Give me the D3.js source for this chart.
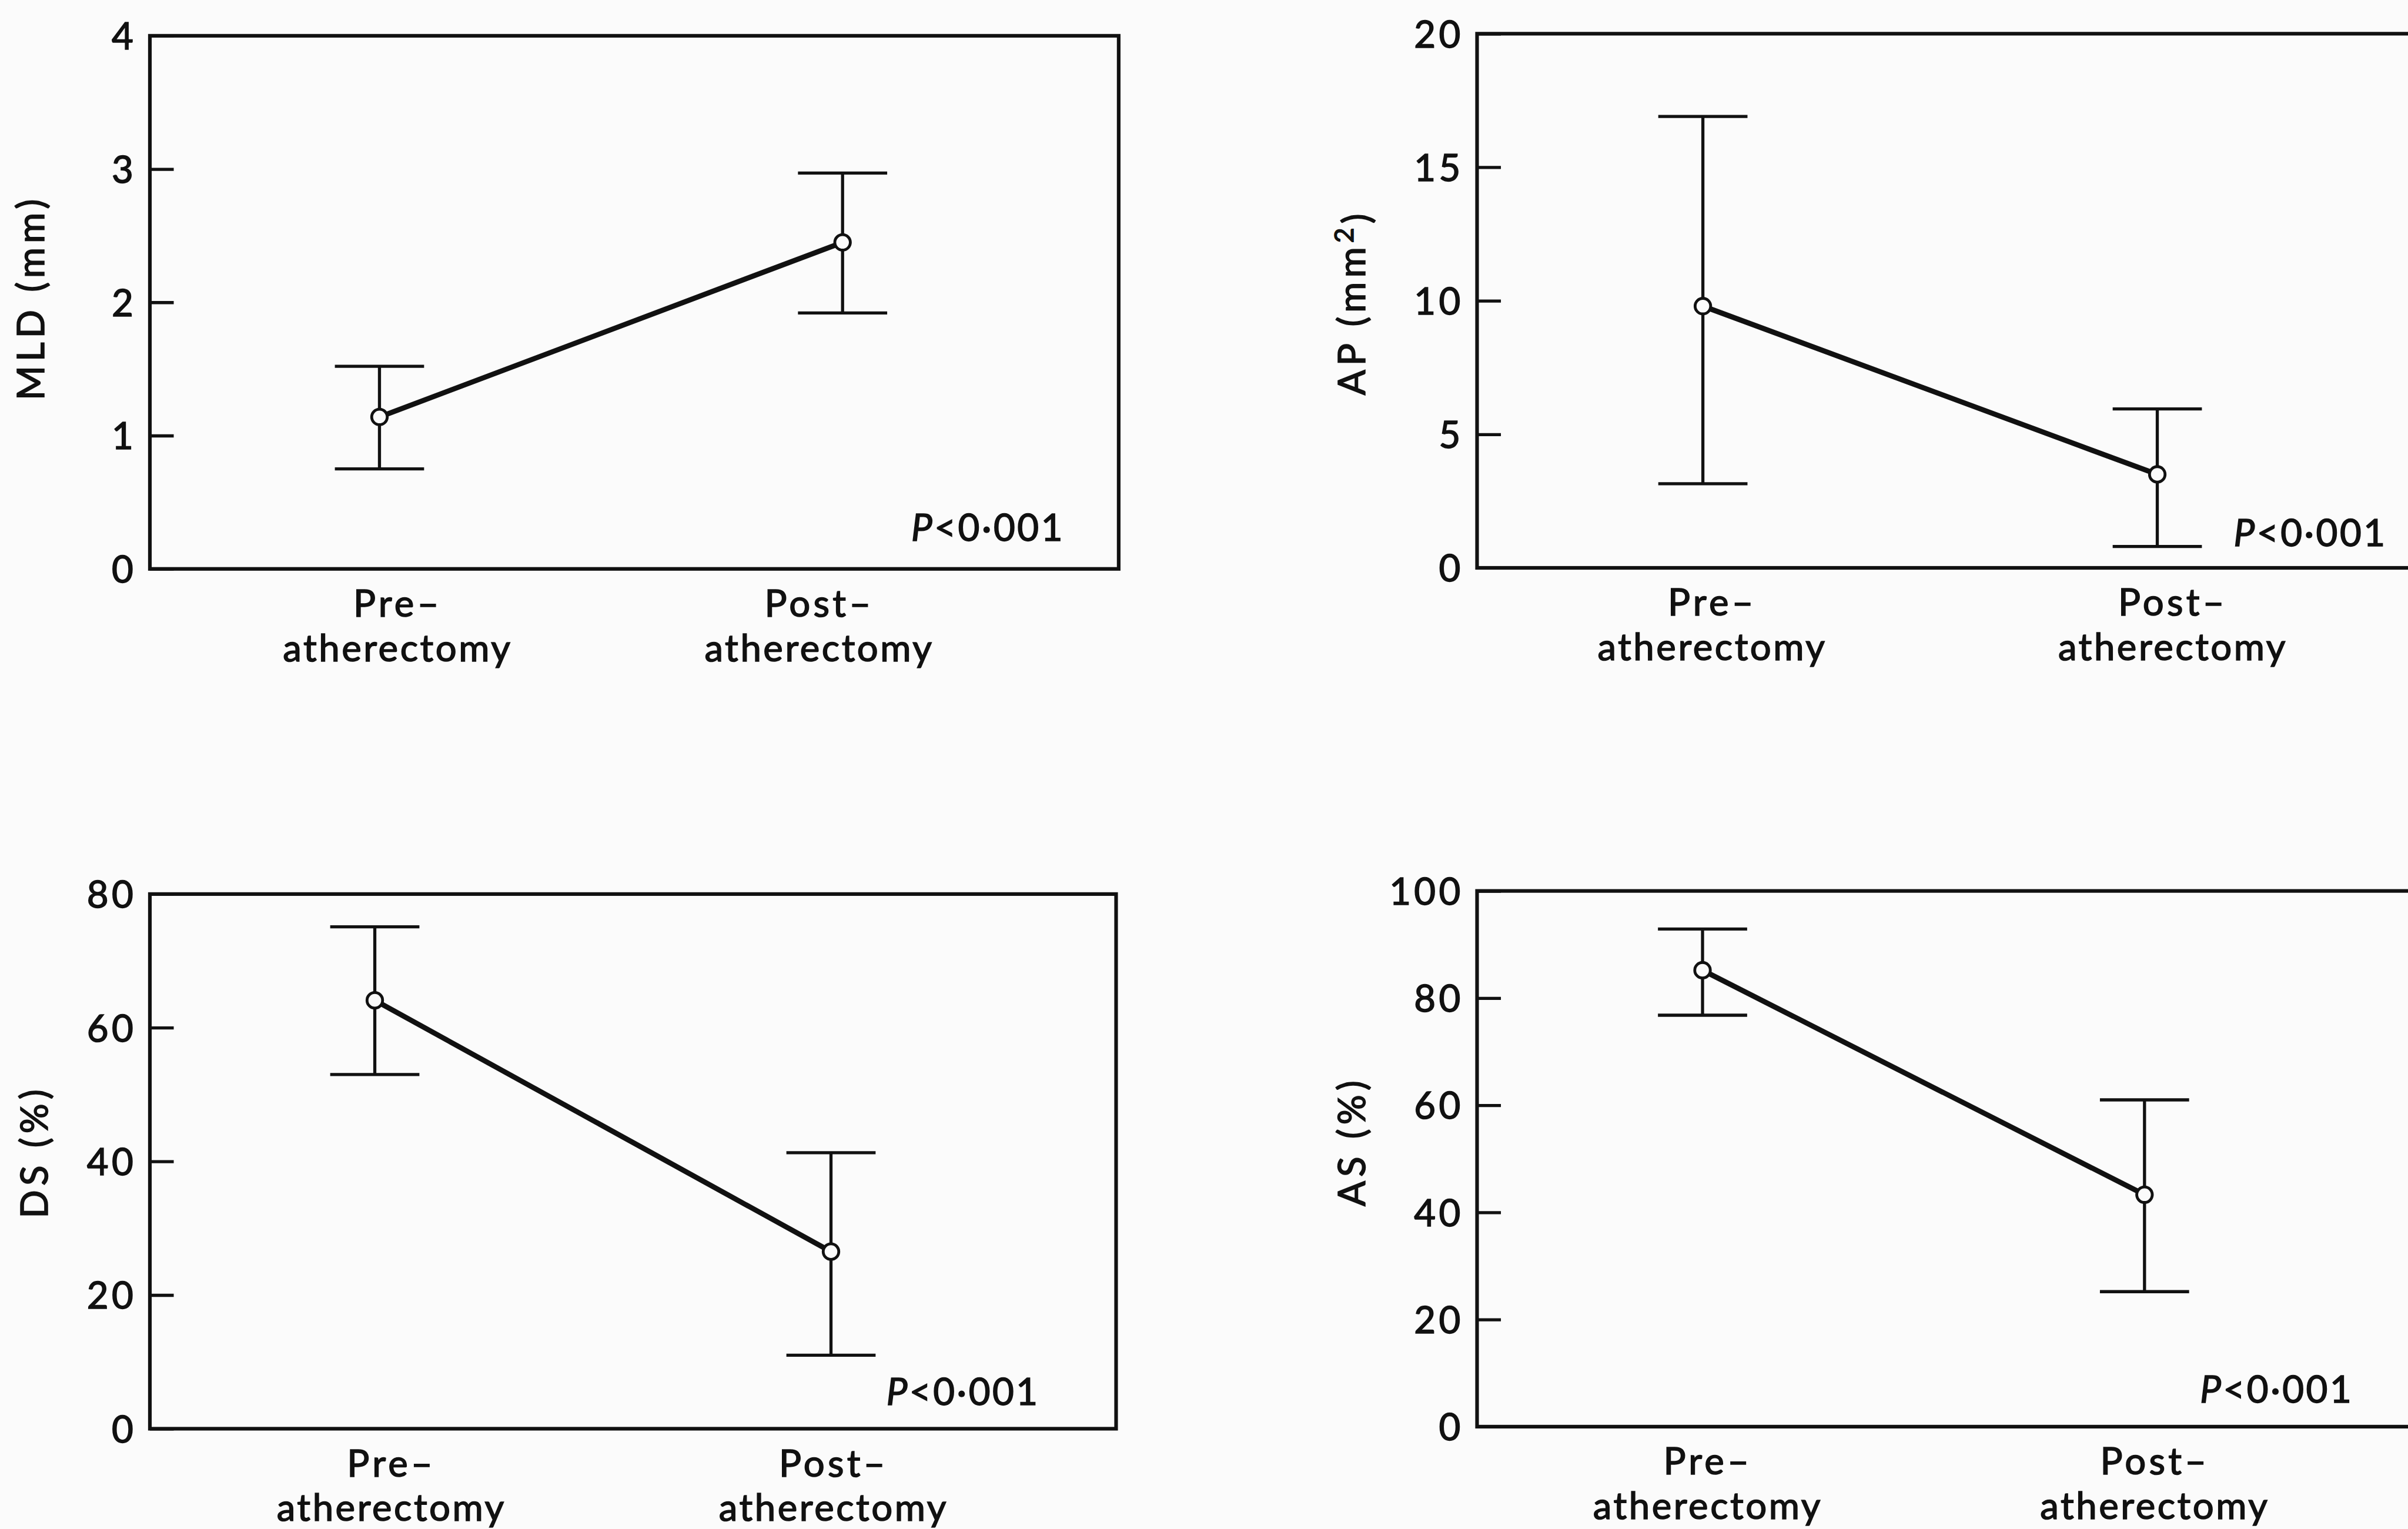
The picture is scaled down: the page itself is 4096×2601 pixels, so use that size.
<!DOCTYPE html>
<html><head><meta charset="utf-8">
<script src="https://cdn.jsdelivr.net/npm/d3@7/dist/d3.min.js"></script>
<style>html,body{margin:0;padding:0;background:#fbfbfb;overflow:hidden}</style>
</head><body><svg id="chart"></svg>
<script>
// ---------- data ----------
const categories = ["Pre–", "Post–"];
const categorySub = ["atherectomy", "atherectomy"];
const pLabel = "<0·001";

const mldMean = [1.14, 2.45], mldLow = [0.75, 1.92], mldHigh = [1.52, 2.97];
const mldTicks = [0, 1, 2, 3, 4];
const apMean = [9.8, 3.5], apLow = [3.15, 0.8], apHigh = [16.9, 5.95];
const apTicks = [0, 5, 10, 15, 20];
const dsMean = [64.1, 26.5], dsLow = [53.0, 11.0], dsHigh = [75.1, 41.3];
const dsTicks = [0, 20, 40, 60, 80];
const asMean = [85.2, 43.3], asLow = [76.8, 25.2], asHigh = [92.9, 61.0];
const asTicks = [0, 20, 40, 60, 80, 100];

// ---------- layout (reference pixel space, scaled to window) ----------
const W = 4096, H = 2601, S = W / 4643;
const FONT = "Lato, 'Open Sans', sans-serif";
const FS = 72;
const BG = "#fbfbfb";

const panels = [
  {label: ["MLD (mm)"], mean: mldMean, low: mldLow, high: mldHigh, ticks: mldTicks,
   left: 289, right: 2157, top: 69, bottom: 1097, pad: 0.546, align: 0.454,
   lOff: [35, -45], pX: 1468, pY: 54, yl: [59, 574]},
  {label: ["AP (mm", "2", ")"], mean: apMean, low: apLow, high: apHigh, ticks: apTicks,
   left: 2848, right: 4716, top: 65, bottom: 1095, pad: 0.566, align: 0.439,
   lOff: [18, 30], pX: 1459, pY: 42, yl: [2606, 583]},
  {label: ["DS (%)"], mean: dsMean, low: dsLow, high: dsHigh, ticks: dsTicks,
   left: 289, right: 2152, top: 1724, bottom: 2755, pad: 0.559, align: 0.441,
   lOff: [32, 5], pX: 1420, pY: 46, yl: [66, 2221]},
  {label: ["AS (%)"], mean: asMean, low: asLow, high: asHigh, ticks: asTicks,
   left: 2848, right: 4716, top: 1718, bottom: 2751, pad: 0.596, align: 0.428,
   lOff: [10, 20], pX: 1394, pY: 46, yl: [2606, 2201]}
];

const svg = d3.select("#chart").attr("width", W).attr("height", H)
  .style("display", "block").style("background", BG);
const root = svg.append("g").attr("transform", `scale(${S})`);
const INK = "#111";

function styleText(sel, spacing) {
  return sel.attr("fill", INK).attr("stroke", INK).attr("stroke-width", 1.8)
    .style("font-family", FONT).style("font-size", FS + "px")
    .style("letter-spacing", spacing + "px");
}

panels.forEach(p => {
  const g = root.append("g");
  const y = d3.scaleLinear().domain([0, d3.max(p.ticks)]).range([p.bottom, p.top]);
  const x = d3.scalePoint().domain(categories).range([p.left, p.right])
    .padding(p.pad).align(p.align);

  // frame
  g.append("rect").attr("x", p.left).attr("y", p.top)
    .attr("width", p.right - p.left).attr("height", p.bottom - p.top)
    .attr("fill", "none").attr("stroke", INK).attr("stroke-width", 7);

  // y axis with inward ticks
  const ax = g.append("g").attr("transform", `translate(${p.left},0)`)
    .call(d3.axisLeft(y).tickValues(p.ticks).tickSize(-46).tickPadding(26)
      .tickFormat(d3.format("d")));
  ax.select(".domain").remove();
  ax.selectAll(".tick line").attr("stroke", INK).attr("stroke-width", 6);
  styleText(ax.selectAll(".tick text"), 6).attr("dy", "0.36em");

  // y label
  const yl = styleText(g.append("text"), 8)
    .attr("transform", `translate(${p.yl[0]},${p.yl[1]}) rotate(-90)`)
    .attr("text-anchor", "middle").attr("dy", "0.36em");
  yl.append("tspan").text(p.label[0]);
  if (p.label.length > 1) {
    yl.append("tspan").attr("dy", "-0.45em").style("font-size", (FS * 0.7) + "px").text(p.label[1]);
    yl.append("tspan").attr("dy", "0.45em").text(p.label[2]);
  }

  // category labels
  categories.forEach((c, i) => {
    const cx = x(c) + p.lOff[i];
    styleText(g.append("text"), 6).attr("x", cx).attr("y", p.bottom + 92)
      .attr("text-anchor", "middle").text(c);
    styleText(g.append("text"), 4).attr("x", cx).attr("y", p.bottom + 178)
      .attr("text-anchor", "middle").text(categorySub[i]);
  });

  // error bars
  const cap = 86;
  categories.forEach((c, i) => {
    g.append("line").attr("x1", x(c)).attr("x2", x(c))
      .attr("y1", y(p.low[i])).attr("y2", y(p.high[i]))
      .attr("stroke", INK).attr("stroke-width", 6);
    [p.low[i], p.high[i]].forEach(v => {
      g.append("line").attr("x1", x(c) - cap).attr("x2", x(c) + cap)
        .attr("y1", y(v)).attr("y2", y(v)).attr("stroke", INK).attr("stroke-width", 6);
    });
  });

  // mean line
  g.append("path").datum(categories)
    .attr("d", d3.line().x(c => x(c)).y((c, i) => y(p.mean[i])))
    .attr("fill", "none").attr("stroke", INK).attr("stroke-width", 10);

  // mean markers
  g.selectAll("circle.m").data(categories).join("circle")
    .attr("cx", c => x(c)).attr("cy", (c, i) => y(p.mean[i])).attr("r", 15)
    .attr("fill", BG).attr("stroke", INK).attr("stroke-width", 5.5);

  // P value
  const pt = styleText(g.append("text"), 4).attr("x", p.left + p.pX).attr("y", p.bottom - p.pY);
  pt.append("tspan").style("font-style", "italic").text("P");
  pt.append("tspan").text(pLabel);
});
</script>
</body></html>
